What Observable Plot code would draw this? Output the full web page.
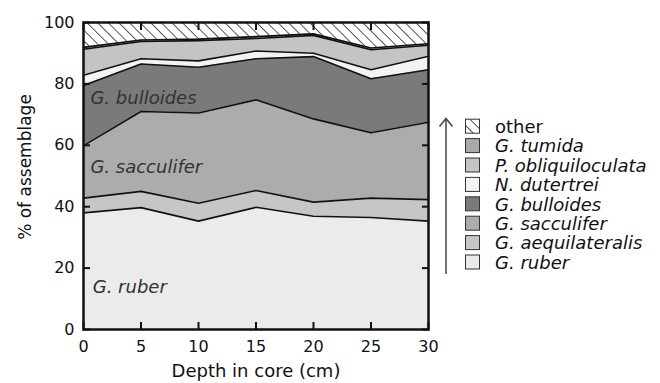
<!DOCTYPE html>
<html>
<head>
<meta charset="utf-8">
<script src="https://cdn.jsdelivr.net/npm/d3@7"></script>
<script src="https://cdn.jsdelivr.net/npm/@observablehq/plot@0.6"></script>
<style>
  html, body { margin: 0; padding: 0; background: #fff; }
  #chart { width: 660px; height: 383px; }
</style>
</head>
<body>
<div id="chart"></div>
<script>
// Depth in core (cm)
const depths = [0, 5, 10, 15, 20, 25, 30];
// Species, bottom of stack first
const species = ["G. ruber", "G. aequilateralis", "G. sacculifer", "G. bulloides",
                 "N. dutertrei", "P. obliquiloculata", "G. tumida", "other"];
// % of assemblage per species at each depth
const ruber          = [38.0, 39.7, 35.3, 39.8, 36.9, 36.5, 35.3];
const aequilateralis = [ 4.8,  5.3,  5.8,  5.5,  4.6,  6.3,  7.0];
const sacculifer     = [17.1, 26.0, 29.4, 29.5, 27.1, 21.3, 25.2];
const bulloides      = [19.6, 15.5, 14.9, 13.4, 20.3, 17.6, 17.1];
const dutertrei      = [ 3.3,  1.7,  2.1,  2.5,  1.1,  2.9,  4.4];
const obliquiloculata= [ 8.5,  5.6,  6.6,  4.1,  5.8,  6.5,  3.6];
const tumida         = [ 0.6,  0.5,  0.5,  0.6,  0.5,  0.6,  0.5];
const other          = [ 8.1,  5.7,  5.4,  4.6,  3.7,  8.3,  6.9];
const seriesValues = [ruber, aequilateralis, sacculifer, bulloides, dutertrei, obliquiloculata, tumida, other];
const fills = ["#ebebeb", "#c6c6c6", "#acacac", "#7a7a7a", "#f3f3f3", "#c4c4c4", "#a9a9a9", "url(#hatch)"];

const xTicks = [0, 5, 10, 15, 20, 25, 30];
const yTicks = [0, 20, 40, 60, 80, 100];

// In-chart labels
const labelNames = ["G. bulloides", "G. sacculifer", "G. ruber"];
const labelDepth = [0.6, 0.6, 0.8];
const labelPct   = [75.4, 52.8, 13.8];

const rows = [];
species.forEach((s, i) => depths.forEach((d, j) => rows.push({species: s, depth: d, value: seriesValues[i][j]})));
const labels = labelNames.map((t, i) => ({text: t, depth: labelDepth[i], pct: labelPct[i]}));

const FONT = "DejaVu Sans";
const TICK = 7;

const hatchDefs = () => {
  const defs = d3.create("svg:defs");
  const p = defs.append("pattern").attr("id", "hatch").attr("patternUnits", "userSpaceOnUse")
    .attr("width", 7.5).attr("height", 7.5).attr("patternTransform", "rotate(-45)");
  p.append("rect").attr("width", 7.5).attr("height", 7.5).attr("fill", "#fff");
  p.append("line").attr("x1", 0).attr("y1", 0).attr("x2", 0).attr("y2", 7.5)
    .attr("stroke", "#111").attr("stroke-width", 1.4);
  return defs.node();
};

const noText = () => "";

const plot = Plot.plot({
  width: 660,
  height: 383,
  marginLeft: 83,
  marginRight: 232,
  marginTop: 22,
  marginBottom: 54,
  style: {fontFamily: FONT, fontSize: "16px", color: "#111", background: "#fff"},
  x: {domain: [0, 30]},
  y: {domain: [0, 100]},
  color: {domain: species, range: fills},
  marks: [
    hatchDefs,
    Plot.areaY(rows, Plot.stackY({x: "depth", y: "value", z: "species", fill: "species"})),
    Plot.lineY(rows.filter(r => r.species !== "other"),
      Plot.stackY2({x: "depth", y: "value", z: "species", stroke: "#111", strokeWidth: 1.6})),
    Plot.text(labels, {x: "depth", y: "pct", text: "text", textAnchor: "start", fontStyle: "italic",
      fontSize: 18, fill: "#333"}),
    // tick labels
    Plot.axisX({anchor: "bottom", ticks: xTicks, tickSize: 0, tickPadding: 11, fontSize: 16, label: null}),
    Plot.axisY({anchor: "left", ticks: yTicks, tickSize: 0, tickPadding: 9, fontSize: 16, label: null}),
    // inward ticks on all four sides
    Plot.axisX({anchor: "bottom", ticks: xTicks, tickSize: TICK, dy: -TICK, tickFormat: noText, strokeWidth: 2, label: null}),
    Plot.axisX({anchor: "top", ticks: xTicks, tickSize: TICK, dy: TICK, tickFormat: noText, strokeWidth: 2, label: null}),
    Plot.axisY({anchor: "left", ticks: yTicks, tickSize: TICK, dx: TICK, tickFormat: noText, strokeWidth: 2, label: null}),
    Plot.axisY({anchor: "right", ticks: yTicks, tickSize: TICK, dx: -TICK, tickFormat: noText, strokeWidth: 2, label: null}),
    Plot.frame({stroke: "#111", strokeWidth: 2.5}),
    Plot.text(["Depth in core (cm)"], {frameAnchor: "bottom", lineAnchor: "middle", textAnchor: "middle",
      dy: 42, fontSize: 18, fill: "#111"})
  ]
});

const svg = d3.select(plot);
// y axis title
svg.append("text")
  .attr("transform", "translate(25,167) rotate(-90)")
  .attr("text-anchor", "middle").attr("dy", "0.35em")
  .attr("font-family", FONT).attr("font-size", 17).attr("fill", "#111")
  .text("% of assemblage");

// Legend (drawn in the same SVG, to the right of the plot)
const leg = svg.append("g").attr("font-family", FONT).attr("font-size", 18).attr("fill", "#111")
  .attr("text-anchor", "start");
const legendOrder = species.slice().reverse();
const rowY0 = 126.7, rowStep = 19.4;
legendOrder.forEach((s, i) => {
  const cy = rowY0 + i * rowStep;
  leg.append("rect").attr("x", 465.5).attr("y", cy - 7.5).attr("width", 14).attr("height", 14)
    .attr("fill", fills[species.indexOf(s)]).attr("stroke", "#333").attr("stroke-width", 1);
  leg.append("text").attr("x", 495).attr("y", cy).attr("dy", "0.35em")
    .attr("text-anchor", "start")
    .attr("font-style", s === "other" ? "normal" : "italic").text(s);
});
// upward arrow
leg.append("line").attr("x1", 446).attr("x2", 446).attr("y1", 274).attr("y2", 118)
  .attr("stroke", "#444").attr("stroke-width", 1.5);
leg.append("path").attr("d", "M439.5,126.5L446,118.5L452.5,126.5")
  .attr("fill", "none").attr("stroke", "#444").attr("stroke-width", 1.5);

document.getElementById("chart").appendChild(plot);
</script>
</body>
</html>
